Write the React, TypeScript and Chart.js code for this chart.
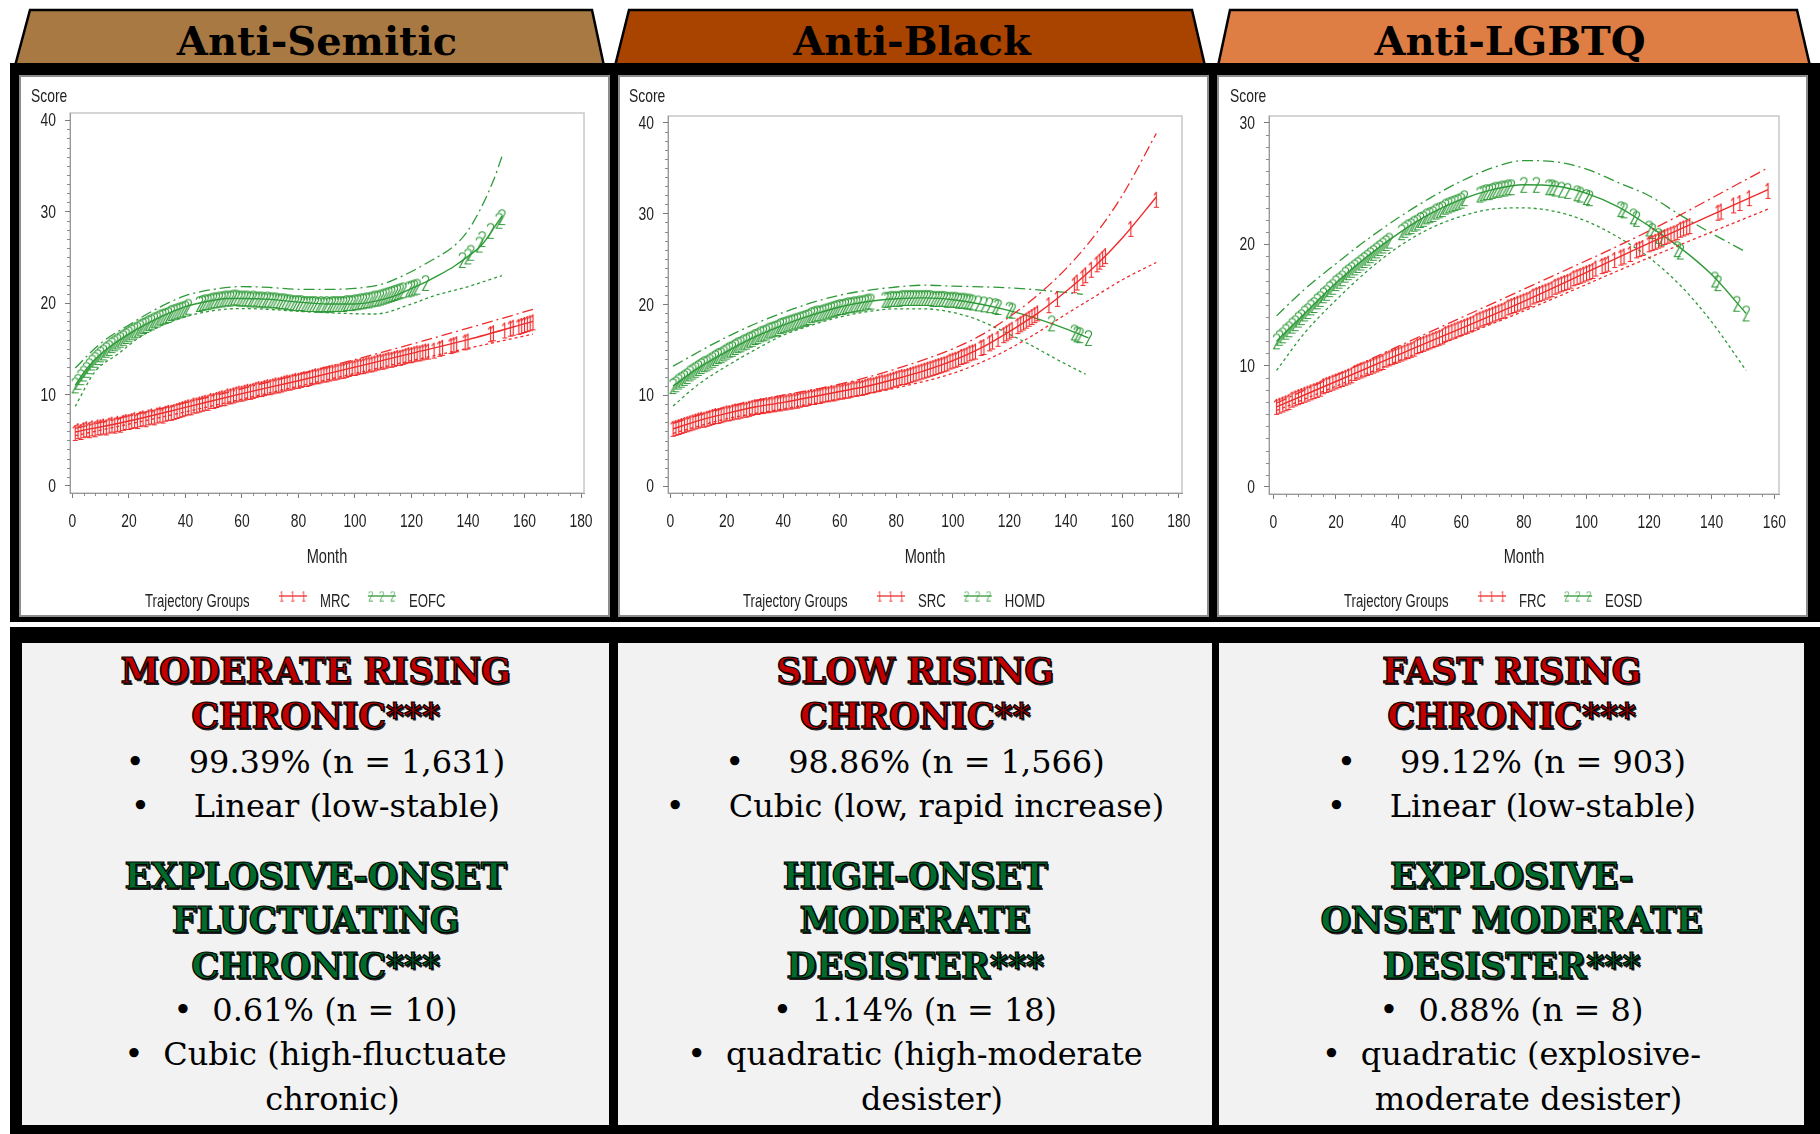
import React, { useEffect, useRef } from "react";
import { Chart, registerables } from "chart.js";
Chart.register(...registerables);

// ---------------- DATA ----------------
const xTicks180 = [0, 20, 40, 60, 80, 100, 120, 140, 160, 180];
const xTicks160 = [0, 20, 40, 60, 80, 100, 120, 140, 160];
const yTicks40 = [0, 10, 20, 30, 40];
const yTicks30 = [0, 10, 20, 30];

// Anti-Semitic: MRC (group 1)
const asMrcLineM = [1, 20, 40, 60, 80, 100, 120, 140, 163];
const asMrcLineV = [5.9, 7.1, 8.6, 10.1, 11.5, 13.0, 14.5, 16.0, 18.0];
const asMrcCiM = [1, 40, 80, 120, 163];
const asMrcUpV = [6.3, 9.1, 12.2, 15.5, 19.3];
const asMrcLoV = [5.5, 8.1, 10.9, 13.7, 16.6];
const asMrcObsStart = 1;
const asMrcObs = [
  5.8, 6.0, 5.9, 6.1, 6.2, 6.1, 6.3, 6.2, 6.4, 6.4,
  6.5, 6.4, 6.6, 6.7, 6.6, 6.8, 6.7, 6.9, 7.0, 7.0,
  7.1, 7.2, 7.1, 7.3, 7.4, 7.3, 7.5, 7.6, 7.5, 7.7,
  7.8, 7.7, 7.9, 8.0, 8.0, 8.1, 8.2, 8.3, 8.4, 8.5,
  8.6, 8.6, 8.8, 8.8, 8.9, 9.0, 9.1, 9.1, 9.3, 9.3,
  9.4, 9.5, 9.6, 9.6, 9.8, 9.8, 9.9, 10.0, 10.1, 10.1,
  10.2, 10.3, 10.3, 10.4, 10.5, 10.6, 10.6, 10.7, 10.8, 10.8,
  10.9, 11.0, 11.0, 11.1, 11.2, 11.3, 11.3, 11.4, 11.5, 11.5,
  11.6, 11.7, 11.7, 11.8, 11.9, 12.0, 12.0, 12.1, 12.2, 12.2,
  12.3, 12.4, 12.4, 12.5, 12.6, 12.6, 12.7, 12.8, 12.9, 12.9,
  13.0, 13.1, 13.1, 13.2, 13.3, 13.3, 13.4, 13.5, 13.6, 13.6,
  13.7, 13.8, 13.8, 13.9, 14.0, 14.0, 14.1, 14.2, 14.3, 14.3,
  14.4, 14.5, 14.5, 14.6, 14.7, 14.7,
];
const asMrcSparseM = [128, 130, 131, 134, 135, 136, 139, 140, 148, 149, 153, 155, 156, 158, 159, 160, 161, 162, 163];
const asMrcSparseV = [14.8, 15.0, 15.1, 15.3, 15.4, 15.5, 15.7, 15.8, 16.6, 16.7, 17.0, 17.2, 17.3, 17.4, 17.5, 17.6, 17.7, 17.8, 17.9];

// Anti-Semitic: EOFC (group 2)
const asEofcLineM = [1, 5, 10, 15, 20, 25, 30, 35, 40, 45, 50, 55, 60, 70, 80, 90, 100, 110, 115, 120, 125, 130, 135, 140, 145, 150, 152];
const asEofcLineV = [11.0, 12.8, 14.4, 15.6, 16.6, 17.5, 18.3, 19.0, 19.6, 20.0, 20.3, 20.5, 20.5, 20.4, 20.1, 19.9, 19.9, 20.4, 20.9, 21.6, 22.3, 23.1, 24.0, 25.1, 26.4, 28.6, 29.5];
const asEofcUpM = [1, 10, 20, 30, 40, 50, 60, 70, 80, 90, 100, 110, 115, 125, 137, 142, 149, 152];
const asEofcUpV = [12.9, 15.6, 17.6, 19.4, 20.8, 21.5, 21.8, 21.7, 21.5, 21.5, 21.6, 22.1, 22.7, 24.3, 26.8, 28.9, 33.4, 36.0];
const asEofcLoM = [1, 8, 16, 25, 40, 60, 86, 107, 120, 128, 139, 152];
const asEofcLoV = [8.7, 12.5, 14.4, 16.5, 18.5, 19.4, 19.0, 18.8, 19.9, 20.8, 21.7, 23.0];
const asEofcObsAStart = 1;
const asEofcObsA = [
  11.0, 11.4, 11.9, 12.3, 12.7, 13.1, 13.5, 13.8, 14.1, 14.4,
  14.6, 14.9, 15.1, 15.4, 15.6, 15.8, 16.0, 16.2, 16.4, 16.6,
  16.8, 17.0, 17.1, 17.3, 17.5, 17.6, 17.8, 17.9, 18.1, 18.2,
  18.4, 18.5, 18.6, 18.7, 18.9, 19.0, 19.1, 19.2, 19.3, 19.4, 19.6,
];
const asEofcObsBStart = 45;
const asEofcObsB = [
  19.9, 20.0, 20.1, 20.1, 20.2, 20.3,
  20.3, 20.4, 20.4, 20.5, 20.5, 20.5, 20.6, 20.6, 20.5, 20.5,
  20.5, 20.5, 20.4, 20.5, 20.4, 20.4, 20.4, 20.3, 20.4, 20.3,
  20.3, 20.3, 20.2, 20.2, 20.2, 20.1, 20.1, 20.0, 20.0, 20.0,
  20.0, 19.9, 19.9, 19.9, 19.9, 19.9, 19.8, 19.9, 19.8, 19.9,
  19.8, 19.9, 19.9, 19.9, 19.9, 19.9, 20.0, 20.0, 20.0, 20.1,
  20.1, 20.2, 20.2, 20.3, 20.3, 20.4, 20.5, 20.5, 20.6, 20.7,
  20.8, 20.9, 21.0, 21.1, 21.2, 21.3, 21.4,
];
const asEofcSparseM = [119, 120, 121, 122, 125, 138, 140, 141, 144, 145, 148, 151, 152];
const asEofcSparseV = [21.5, 21.6, 21.7, 21.8, 22.2, 24.7, 25.1, 25.5, 26.4, 27.0, 27.9, 29.0, 29.4];

// Anti-Black: SRC (group 1)
const abSrcLineM = [1, 10, 20, 30, 40, 50, 60, 70, 80, 90, 100, 110, 120, 130, 140, 150, 160, 172];
const abSrcLineV = [6.3, 7.2, 8.0, 8.7, 9.2, 9.8, 10.4, 11.0, 11.8, 12.7, 13.8, 15.2, 17.0, 19.0, 21.4, 24.1, 27.3, 31.8];
const abSrcCiM = [1, 20, 40, 60, 80, 100, 110, 120, 130, 140, 150, 160, 172];
const abSrcUpV = [6.9, 8.7, 10.0, 11.2, 12.9, 15.1, 16.6, 18.6, 21.0, 23.9, 27.5, 32.0, 38.8];
const abSrcLoV = [5.8, 7.4, 8.5, 9.6, 10.8, 12.4, 13.6, 15.1, 16.9, 18.9, 20.8, 22.7, 24.6];
const abSrcObsStart = 1;
const abSrcObs = [
  6.3, 6.4, 6.5, 6.6, 6.7, 6.8, 6.9, 7.0, 7.1, 7.2,
  7.3, 7.3, 7.4, 7.5, 7.6, 7.7, 7.7, 7.8, 7.9, 8.0,
  8.0, 8.1, 8.2, 8.2, 8.3, 8.4, 8.4, 8.5, 8.6, 8.7,
  8.7, 8.8, 8.8, 8.9, 8.9, 9.0, 9.0, 9.1, 9.1, 9.2,
  9.2, 9.3, 9.3, 9.4, 9.4, 9.5, 9.6, 9.6, 9.7, 9.8,
  9.8, 9.9, 9.9, 10.0, 10.1, 10.1, 10.2, 10.2, 10.3, 10.4,
  10.4, 10.5, 10.5, 10.6, 10.7, 10.7, 10.8, 10.8, 10.9, 11.0,
  11.1, 11.1, 11.2, 11.3, 11.4, 11.4, 11.5, 11.6, 11.7, 11.8,
  11.9, 12.0, 12.0, 12.1, 12.2, 12.3, 12.4, 12.5, 12.6, 12.7,
  12.8, 12.9, 13.0, 13.1, 13.2, 13.3, 13.4, 13.5, 13.7, 13.8,
  13.9, 14.0, 14.2, 14.3, 14.4, 14.6, 14.7, 14.8,
];
const abSrcSparseM = [110, 111, 113, 114, 116, 118, 119, 120, 121, 123, 124, 125, 126, 127, 128, 129, 130, 134, 137, 143, 144, 146, 147, 149, 151, 152, 153, 154, 163, 172];
const abSrcSparseV = [15.2, 15.3, 15.7, 15.9, 16.2, 16.6, 16.8, 17.0, 17.2, 17.6, 17.8, 18.0, 18.2, 18.4, 18.6, 18.8, 19.0, 19.9, 20.6, 22.1, 22.4, 22.9, 23.2, 23.8, 24.4, 24.7, 25.0, 25.3, 28.3, 31.5];

// Anti-Black: HOMD (group 2)
const abHomdLineM = [1, 10, 20, 30, 40, 50, 60, 70, 80, 90, 100, 110, 120, 130, 140, 148];
const abHomdLineV = [11.0, 13.0, 14.8, 16.4, 17.7, 18.8, 19.7, 20.3, 20.6, 20.7, 20.5, 20.0, 19.3, 18.4, 17.3, 16.3];
const abHomdUpM = [1, 20, 40, 60, 80, 90, 100, 120, 140, 146];
const abHomdUpV = [13.2, 16.4, 19.1, 21.0, 21.9, 22.1, 22.0, 21.8, 21.3, 21.1];
const abHomdLoM = [1, 10, 20, 30, 40, 50, 60, 70, 80, 90, 100, 107, 116, 127, 137, 147];
const abHomdLoV = [8.8, 11.2, 13.2, 15.0, 16.6, 17.7, 18.6, 19.2, 19.5, 19.5, 19.1, 18.5, 17.3, 15.6, 13.9, 12.3];
const abHomdObsAStart = 1;
const abHomdObsA = [
  11.0, 11.2, 11.5, 11.7, 11.9, 12.1, 12.4, 12.6, 12.8, 13.0,
  13.2, 13.4, 13.5, 13.7, 13.9, 14.1, 14.3, 14.4, 14.6, 14.8,
  15.0, 15.1, 15.3, 15.5, 15.6, 15.8, 15.9, 16.1, 16.2, 16.4,
  16.5, 16.7, 16.8, 16.9, 17.1, 17.2, 17.3, 17.4, 17.6, 17.7,
  17.8, 17.9, 18.0, 18.1, 18.2, 18.3, 18.4, 18.5, 18.6, 18.8,
  18.9, 19.0, 19.0, 19.1, 19.2, 19.3, 19.4, 19.5, 19.6, 19.7,
  19.7, 19.8, 19.9, 19.9, 20.0, 20.0, 20.1, 20.1, 20.2, 20.3, 20.3,
];
const abHomdObsBStart = 76;
const abHomdObsB = [
  20.5, 20.5, 20.6, 20.6, 20.6,
  20.6, 20.7, 20.7, 20.7, 20.7, 20.7, 20.7, 20.7, 20.7, 20.7,
  20.7, 20.7, 20.6, 20.6, 20.6, 20.6, 20.6, 20.5, 20.5, 20.5,
  20.5, 20.4, 20.4, 20.4, 20.3, 20.3, 20.2,
];
const abHomdSparseM = [109, 111, 113, 115, 116, 120, 121, 135, 143, 144, 145, 148];
const abHomdSparseV = [20.1, 20.0, 19.9, 19.8, 19.7, 19.4, 19.3, 17.9, 16.9, 16.7, 16.6, 16.3];

// Anti-LGBTQ: FRC (group 1)
const lgFrcLineM = [1, 40, 80, 120, 158];
const lgFrcLineV = [6.6, 10.9, 15.3, 20.1, 24.5];
const lgFrcUpV = [6.9, 11.6, 16.3, 21.1, 26.3];
const lgFrcLoV = [6.3, 10.4, 14.5, 18.9, 22.9];
const lgFrcObsStart = 1;
const lgFrcObs = [
  6.6, 6.7, 6.8, 6.9, 7.0, 7.2, 7.3, 7.4, 7.5, 7.6,
  7.7, 7.8, 7.9, 8.0, 8.1, 8.3, 8.4, 8.5, 8.6, 8.7,
  8.8, 8.9, 9.0, 9.1, 9.2, 9.4, 9.5, 9.6, 9.7, 9.8,
  9.9, 10.0, 10.1, 10.2, 10.3, 10.5, 10.6, 10.7, 10.8, 10.9,
  11.0, 11.1, 11.2, 11.3, 11.4, 11.6, 11.7, 11.8, 11.9, 12.0,
  12.1, 12.2, 12.3, 12.4, 12.6, 12.7, 12.8, 12.9, 13.0, 13.1,
  13.2, 13.3, 13.4, 13.5, 13.7, 13.8, 13.9, 14.0, 14.1, 14.2,
  14.3, 14.4, 14.5, 14.6, 14.8, 14.9, 15.0, 15.1, 15.2, 15.3,
  15.4, 15.5, 15.7, 15.8, 15.9, 16.0, 16.1, 16.2, 16.3, 16.5,
  16.6, 16.7, 16.8, 16.9, 17.0, 17.2, 17.3, 17.4, 17.5, 17.6, 17.7,
];
const lgFrcSparseM = [102, 103, 105, 106, 107, 109, 111, 112, 114, 116, 117, 118, 120, 121, 122, 123, 124, 125, 126, 127, 128, 129, 130, 131, 132, 133, 142, 143, 147, 149, 152, 158];
const lgFrcSparseV = [17.8, 18.0, 18.2, 18.3, 18.4, 18.7, 18.9, 19.0, 19.2, 19.5, 19.6, 19.7, 20.0, 20.1, 20.2, 20.3, 20.4, 20.6, 20.7, 20.8, 20.9, 21.0, 21.2, 21.3, 21.4, 21.5, 22.6, 22.7, 23.2, 23.4, 23.8, 24.4];

// Anti-LGBTQ: EOSD (group 2)
const lgEosdLineM = [1, 10, 20, 30, 40, 50, 60, 70, 80, 90, 100, 110, 120, 130, 140, 151];
const lgEosdLineV = [12.0, 14.3, 16.8, 19.0, 20.9, 22.5, 23.7, 24.5, 24.9, 24.8, 24.2, 23.1, 21.5, 19.7, 17.5, 14.3];
const lgEosdUpM = [1, 10, 20, 30, 40, 50, 60, 70, 80, 90, 100, 110, 120, 130, 140, 150];
const lgEosdUpV = [14.1, 16.3, 18.4, 20.4, 22.2, 23.8, 25.2, 26.3, 26.9, 26.8, 26.2, 25.1, 24.0, 22.4, 20.9, 19.5];
const lgEosdLoM = [1, 10, 20, 30, 40, 50, 60, 70, 80, 90, 100, 110, 120, 130, 140, 151];
const lgEosdLoV = [9.6, 12.7, 15.4, 17.8, 19.8, 21.3, 22.3, 22.9, 23.0, 22.7, 21.9, 20.6, 18.9, 16.6, 13.6, 9.6];
const lgEosdObsAStart = 1;
const lgEosdObsA = [
  12.0, 12.3, 12.5, 12.8, 13.0, 13.3, 13.5, 13.8, 14.0, 14.3,
  14.5, 14.8, 15.0, 15.3, 15.5, 15.8, 16.0, 16.3, 16.5, 16.8,
  17.0, 17.2, 17.5, 17.7, 17.9, 18.1, 18.3, 18.5, 18.7, 18.9,
  19.1, 19.3, 19.5, 19.7, 19.9, 20.1, 20.3,
];
const lgEosdObsBStart = 41;
const lgEosdObsB = [
  21.0, 21.2, 21.4, 21.5, 21.7, 21.8, 22.0, 22.1, 22.3, 22.4,
  22.5, 22.7, 22.8, 22.9, 23.1, 23.2, 23.3, 23.4, 23.5, 23.6, 23.8,
];
const lgEosdObsCStart = 66;
const lgEosdObsC = [24.1, 24.2, 24.3, 24.3, 24.4, 24.5, 24.5, 24.6, 24.6, 24.7, 24.7];
const lgEosdSparseM = [80, 84, 88, 89, 90, 92, 94, 97, 98, 100, 101, 111, 112, 115, 116, 120, 121, 123, 124, 129, 130, 141, 142, 148, 151];
const lgEosdSparseV = [24.9, 24.9, 24.7, 24.7, 24.6, 24.5, 24.4, 24.2, 24.1, 23.9, 23.8, 22.9, 22.8, 22.3, 22.1, 21.3, 21.1, 20.7, 20.5, 19.6, 19.4, 17.1, 16.8, 15.1, 14.3];

// ---------------- TEXT ----------------
const tabTitles = ["Anti-Semitic", "Anti-Black", "Anti-LGBTQ"];
const groupNames = [["MRC", "EOFC"], ["SRC", "HOMD"], ["FRC", "EOSD"]];
const panelLines: [string, string][][] = [
  [
    ["hr", "MODERATE RISING"], ["hr", "CHRONIC***"], ["b1", "99.39% (n = 1,631)"], ["b1", "Linear (low-stable)"],
    ["hg", "EXPLOSIVE-ONSET"], ["hg", "FLUCTUATING"], ["hg", "CHRONIC***"], ["b2", "0.61% (n = 10)"],
    ["b2", "Cubic (high-fluctuate"], ["c", "chronic)"],
  ],
  [
    ["hr", "SLOW RISING"], ["hr", "CHRONIC**"], ["b1", "98.86% (n = 1,566)"], ["b1", "Cubic (low, rapid increase)"],
    ["hg", "HIGH-ONSET"], ["hg", "MODERATE"], ["hg", "DESISTER***"], ["b2", "1.14% (n = 18)"],
    ["b2", "quadratic (high-moderate"], ["c", "desister)"],
  ],
  [
    ["hr", "FAST RISING"], ["hr", "CHRONIC***"], ["b1", "99.12% (n = 903)"], ["b1", "Linear (low-stable)"],
    ["hg", "EXPLOSIVE-"], ["hg", "ONSET MODERATE"], ["hg", "DESISTER***"], ["b2", "0.88% (n = 8)"],
    ["b2", "quadratic (explosive-"], ["c", "moderate desister)"],
  ],
];

// ---------------- STYLE ----------------
const SANS = '"Liberation Sans", Arial, "DejaVu Sans", sans-serif';
const SQUEEZE = 0.73;
const SERIF = '"DejaVu Serif", "Liberation Serif", serif';
const RED = "#ef2b2b";
const GREEN = "#2f9a38";

function pts(months: number[], values: number[]) {
  return months.map((m, i) => ({ x: m, y: values[i] }));
}
function seg(start: number, values: number[]) {
  return values.map((v, i) => ({ x: start + i, y: v }));
}

function makeGlyph(ch: string, color: string, scale = 1): HTMLCanvasElement {
  const w = Math.round(9 * scale);
  const h = Math.round(18 * scale);
  const c = document.createElement("canvas");
  c.width = w;
  c.height = h;
  const g = c.getContext("2d")!;
  g.scale(scale, scale);
  g.strokeStyle = color;
  g.lineWidth = 1.15;
  g.beginPath();
  if (ch === "1") {
    g.moveTo(4.5, 1.0);
    g.lineTo(4.5, 16.8);
    g.moveTo(4.5, 1.3);
    g.lineTo(2.0, 4.3);
    g.moveTo(2.0, 16.5);
    g.lineTo(7.2, 16.5);
  } else {
    g.arc(4.5, 4.8, 3.1, Math.PI, Math.PI * 2.27);
    g.lineTo(1.6, 16.5);
    g.lineTo(7.8, 16.5);
  }
  g.stroke();
  return c;
}

function squeezeText(ctx: CanvasRenderingContext2D, text: string, x: number, y: number, align: string) {
  const w = ctx.measureText(text).width * SQUEEZE;
  let x0 = x;
  if (align === "center") x0 = x - w / 2;
  else if (align === "right") x0 = x - w;
  ctx.save();
  ctx.translate(x0, y);
  ctx.scale(SQUEEZE, 1);
  ctx.textAlign = "left";
  ctx.fillText(text, 0, 0);
  ctx.restore();
  return w;
}

const decorPlugin = {
  id: "decor",
  beforeDraw(chart: any) {
    const { ctx, chartArea: ca } = chart;
    ctx.save();
    ctx.strokeStyle = "#c8c8c8";
    ctx.lineWidth = 1.5;
    ctx.strokeRect(ca.left, ca.top, ca.right - ca.left, ca.bottom - ca.top);
    ctx.restore();
  },
  afterDraw(chart: any, _args: any, opts: any) {
    const { ctx, chartArea: ca, scales } = chart;
    const xs = scales.x;
    const ys = scales.y;
    ctx.save();
    ctx.strokeStyle = "#8c8c8c";
    ctx.lineWidth = 1;
    for (let v = 0; v <= opts.xLast; v += opts.xMinor) {
      if (v % 20 === 0) continue;
      const px = Math.round(xs.getPixelForValue(v)) + 0.5;
      ctx.beginPath();
      ctx.moveTo(px, ca.bottom);
      ctx.lineTo(px, ca.bottom + 3);
      ctx.stroke();
    }
    for (let v = 0; v <= opts.yLast; v += 1) {
      if (v % 10 === 0) continue;
      const py = Math.round(ys.getPixelForValue(v)) + 0.5;
      ctx.beginPath();
      ctx.moveTo(ca.left - 3, py);
      ctx.lineTo(ca.left, py);
      ctx.stroke();
    }
    ctx.fillStyle = "#222";
    ctx.textBaseline = "middle";
    // tick labels (condensed, like the SAS output)
    ctx.font = `19px ${SANS}`;
    xs.ticks.forEach((t: any) => {
      squeezeText(ctx, String(t.value), xs.getPixelForValue(t.value), ca.bottom + 29, "center");
    });
    ys.ticks.forEach((t: any) => {
      squeezeText(ctx, String(t.value), ca.left - 14, ys.getPixelForValue(t.value) + 1, "right");
    });
    ctx.font = `19px ${SANS}`;
    squeezeText(ctx, "Score", ca.left - 39, 20, "left");
    ctx.font = `20px ${SANS}`;
    squeezeText(ctx, "Month", (ca.left + ca.right) / 2, 480, "center");

    // legend
    const ly = 525;
    ctx.font = `18px ${SANS}`;
    const T = ca.left + 75;
    squeezeText(ctx, "Trajectory Groups", T, ly, "left");
    const drawSample = (sx: number, color: string, glyph: HTMLCanvasElement) => {
      ctx.strokeStyle = color;
      ctx.lineWidth = 1.3;
      ctx.beginPath();
      ctx.moveTo(sx, ly - 6);
      ctx.lineTo(sx + 28, ly - 6);
      ctx.stroke();
      [3, 14, 25].forEach((o) => {
        ctx.drawImage(glyph, sx + o - glyph.width / 2, ly - 6 - glyph.height / 2);
      });
    };
    const s1 = T + 134;
    drawSample(s1, RED, opts.g1small);
    const l1 = s1 + 41;
    ctx.fillStyle = "#222";
    const w1 = squeezeText(ctx, opts.names[0], l1, ly, "left");
    const s2 = l1 + w1 + 18;
    drawSample(s2, GREEN, opts.g2small);
    ctx.fillStyle = "#222";
    squeezeText(ctx, opts.names[1], s2 + 41, ly, "left");
    ctx.restore();
  },
};

type Group = { color: string; glyph: string; line: any[]; upper: any[]; lower: any[]; obs: any[] };
type ChartCfg = {
  xMin: number; xMax: number; yMin: number; yMax: number;
  xTicks: number[]; yTicks: number[]; xLast: number; yLast: number;
  top: number; right: number; bottom: number; yW: number;
  names: string[]; groups: Group[];
};

const chartCfgs: ChartCfg[] = [
  {
    xMin: -0.85, xMax: 181.06, yMin: -0.77, yMax: 40.78, xTicks: xTicks180, yTicks: yTicks40, xLast: 180, yLast: 40,
    top: 36, right: 24, bottom: 82, yW: 49, names: groupNames[0],
    groups: [
      { color: RED, glyph: "1", line: pts(asMrcLineM, asMrcLineV), upper: pts(asMrcCiM, asMrcUpV), lower: pts(asMrcCiM, asMrcLoV),
        obs: [...seg(asMrcObsStart, asMrcObs), ...pts(asMrcSparseM, asMrcSparseV)] },
      { color: GREEN, glyph: "2", line: pts(asEofcLineM, asEofcLineV), upper: pts(asEofcUpM, asEofcUpV), lower: pts(asEofcLoM, asEofcLoV),
        obs: [...seg(asEofcObsAStart, asEofcObsA), ...seg(asEofcObsBStart, asEofcObsB), ...pts(asEofcSparseM, asEofcSparseV)] },
    ],
  },
  {
    xMin: -0.81, xMax: 181.1, yMin: -0.77, yMax: 40.72, xTicks: xTicks180, yTicks: yTicks40, xLast: 180, yLast: 40,
    top: 39, right: 25, bottom: 82, yW: 48, names: groupNames[1],
    groups: [
      { color: RED, glyph: "1", line: pts(abSrcLineM, abSrcLineV), upper: pts(abSrcCiM, abSrcUpV), lower: pts(abSrcCiM, abSrcLoV),
        obs: [...seg(abSrcObsStart, abSrcObs), ...pts(abSrcSparseM, abSrcSparseV)] },
      { color: GREEN, glyph: "2", line: pts(abHomdLineM, abHomdLineV), upper: pts(abHomdUpM, abHomdUpV), lower: pts(abHomdLoM, abHomdLoV),
        obs: [...seg(abHomdObsAStart, abHomdObsA), ...seg(abHomdObsBStart, abHomdObsB), ...pts(abHomdSparseM, abHomdSparseV)] },
    ],
  },
  {
    xMin: -1.4, xMax: 161.5, yMin: -0.58, yMax: 30.57, xTicks: xTicks160, yTicks: yTicks30, xLast: 160, yLast: 30,
    top: 39, right: 27, bottom: 81, yW: 50, names: groupNames[2],
    groups: [
      { color: RED, glyph: "1", line: pts(lgFrcLineM, lgFrcLineV), upper: pts(lgFrcLineM, lgFrcUpV), lower: pts(lgFrcLineM, lgFrcLoV),
        obs: [...seg(lgFrcObsStart, lgFrcObs), ...pts(lgFrcSparseM, lgFrcSparseV)] },
      { color: GREEN, glyph: "2", line: pts(lgEosdLineM, lgEosdLineV), upper: pts(lgEosdUpM, lgEosdUpV), lower: pts(lgEosdLoM, lgEosdLoV),
        obs: [...seg(lgEosdObsAStart, lgEosdObsA), ...seg(lgEosdObsBStart, lgEosdObsB), ...seg(lgEosdObsCStart, lgEosdObsC), ...pts(lgEosdSparseM, lgEosdSparseV)] },
    ],
  },
];

function buildChart(canvas: HTMLCanvasElement, cfg: ChartCfg) {
  const datasets: any[] = [];
  cfg.groups.forEach((g) => {
    const lineBase = { pointRadius: 0, pointHoverRadius: 0, showLine: true, fill: false, cubicInterpolationMode: "monotone", borderColor: g.color };
    datasets.push({ ...lineBase, data: g.upper, borderWidth: 1.3, borderDash: [11, 4, 2, 4] });
    datasets.push({ ...lineBase, data: g.lower, borderWidth: 1.3, borderDash: [3, 3] });
    datasets.push({ ...lineBase, data: g.line, borderWidth: 1.4 });
    datasets.push({ data: g.obs, showLine: false, pointStyle: makeGlyph(g.glyph, g.color), pointRadius: 3, pointHoverRadius: 3, borderColor: g.color, backgroundColor: g.color });
  });
  const hiddenTicks = { color: "rgba(0,0,0,0)", font: { family: SANS, size: 17 }, autoSkip: false, maxRotation: 0 };
  return new Chart(canvas, {
    type: "line",
    data: { datasets },
    plugins: [decorPlugin],
    options: {
      animation: false,
      responsive: false,
      maintainAspectRatio: false,
      events: [],
      layout: { padding: { top: cfg.top, right: cfg.right, bottom: cfg.bottom, left: 0 } },
      plugins: {
        legend: { display: false },
        tooltip: { enabled: false },
        decor: {
          xLast: cfg.xLast, yLast: cfg.yLast, xMinor: 4, names: cfg.names,
          g1small: makeGlyph("1", RED, 0.62), g2small: makeGlyph("2", GREEN, 0.62),
        },
      } as any,
      scales: {
        x: {
          type: "linear", min: cfg.xMin, max: cfg.xMax,
          afterBuildTicks: (s: any) => { s.ticks = cfg.xTicks.map((v) => ({ value: v })); },
          afterFit: (s: any) => { s.height = 40; },
          grid: { drawOnChartArea: false, drawTicks: true, tickLength: 5, tickColor: "#7a7a7a" },
          border: { display: true, color: "#9a9a9a", width: 1 },
          ticks: { ...hiddenTicks, padding: 12 },
        },
        y: {
          type: "linear", min: cfg.yMin, max: cfg.yMax,
          afterBuildTicks: (s: any) => { s.ticks = cfg.yTicks.map((v) => ({ value: v })); },
          afterFit: (s: any) => { s.width = cfg.yW; },
          grid: { drawOnChartArea: false, drawTicks: true, tickLength: 5, tickColor: "#7a7a7a" },
          border: { display: true, color: "#9a9a9a", width: 1 },
          ticks: { ...hiddenTicks, padding: 9 },
        },
      },
    } as any,
  });
}

function ChartPanel({ cfg, left }: { cfg: ChartCfg; left: number }) {
  const ref = useRef<HTMLCanvasElement>(null);
  useEffect(() => {
    const ch = buildChart(ref.current!, cfg);
    return () => ch.destroy();
  }, []);
  return (
    <div style={{ position: "absolute", left, top: 75, width: 591, height: 542, border: "2px solid #8c8c8c", boxSizing: "border-box", background: "#fff" }}>
      <canvas ref={ref} width={587} height={538} style={{ display: "block", width: 587, height: 538 }} />
    </div>
  );
}

const tabPolys = [
  "30,10 592,10 604,66 15,66",
  "629,10 1192,10 1205,66 615,66",
  "1230,10 1797,10 1810,66 1218,66",
];
const tabColors = ["#a97944", "#a84300", "#de7e45"];
const tabCenters = [317, 912, 1510];
const topPanelLefts = [19, 618, 1217];
const bottomPanels = [
  { left: 22, width: 587 },
  { left: 618, width: 594 },
  { left: 1219, width: 585 },
];
const lineYs = [671, 716, 762, 806, 876, 920, 966, 1010, 1054, 1099];

function TextLine({ kind, text, left, width, y }: { kind: string; text: string; left: number; width: number; y: number }) {
  const base: React.CSSProperties = {
    position: "absolute", left, width, top: y - 25, height: 50, lineHeight: "50px",
    textAlign: "center", whiteSpace: "pre", fontFamily: SERIF,
  };
  if (kind === "hr" || kind === "hg") {
    return (
      <div style={{
        ...base, fontSize: 35, fontWeight: 700, color: kind === "hr" ? "#c00000" : "#006b2c",
        WebkitTextStroke: "1.2px #000", textShadow: "1.5px 1.5px 0 #222", letterSpacing: "-0.3px",
      } as any}>{text}</div>
    );
  }
  if (kind === "c") {
    return <div style={{ ...base, fontSize: 32, color: "#000", paddingLeft: 34, boxSizing: "border-box" }}>{text}</div>;
  }
  const gap = kind === "b1" ? 44 : 20;
  return (
    <div style={{ ...base, fontSize: 32, color: "#000" }}>
      <span style={{ display: "inline-block", marginRight: gap }}>•</span>{text}
    </div>
  );
}

export default function App() {
  return (
    <div style={{ position: "absolute", left: 0, top: 0, width: 1820, height: 1134, background: "#fff", overflow: "hidden" }}>
      <svg width={1820} height={70} style={{ position: "absolute", left: 0, top: 0 }}>
        {tabPolys.map((p, i) => (
          <polygon key={i} points={p} fill={tabColors[i]} stroke="#000" strokeWidth={2.5} strokeLinejoin="miter" />
        ))}
        {tabTitles.map((t, i) => (
          <text key={i} x={tabCenters[i]} y={55} textAnchor="middle" fontFamily={SERIF} fontWeight={700} fontSize={40} fill="#000">{t}</text>
        ))}
      </svg>
      <div style={{ position: "absolute", left: 10, top: 63, width: 1810, height: 559, background: "#000" }} />
      <div style={{ position: "absolute", left: 10, top: 627, width: 1810, height: 507, background: "#000" }} />
      {chartCfgs.map((c, i) => (
        <ChartPanel key={i} cfg={c} left={topPanelLefts[i]} />
      ))}
      {bottomPanels.map((p, i) => (
        <div key={i} style={{ position: "absolute", left: p.left, top: 643, width: p.width, height: 482, background: "#f2f2f2" }} />
      ))}
      {panelLines.map((lines, i) =>
        lines.map(([kind, text], j) => (
          <TextLine key={`${i}-${j}`} kind={kind} text={text} left={bottomPanels[i].left} width={bottomPanels[i].width} y={lineYs[j]} />
        ))
      )}
    </div>
  );
}
